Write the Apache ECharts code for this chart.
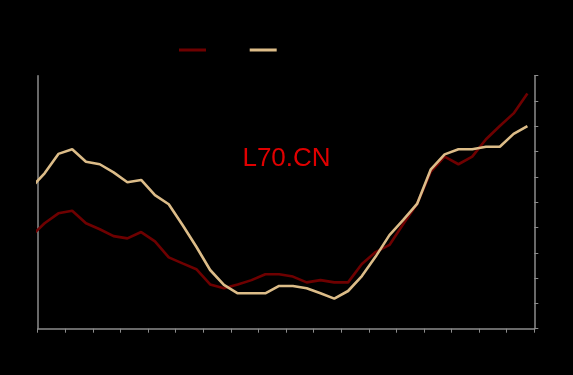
<!DOCTYPE html>
<html>
<head>
<meta charset="utf-8">
<script src="https://cdn.jsdelivr.net/npm/echarts@6/dist/echarts.min.js"></script>
<style>
html,body{margin:0;padding:0;background:#000;}
#chart{width:573px;height:375px;}
</style>
</head>
<body>
<div id="chart"></div>
<script>
// period labels (index 0 is the partial period before the axis start)
var periods = ['P00','P01','P02','P03','P04','P05','P06','P07','P08','P09','P10','P11','P12','P13','P14','P15','P16','P17','P18','P19','P20','P21','P22','P23','P24','P25','P26','P27','P28','P29','P30','P31','P32','P33','P34','P35','P36'];
var seriesNames = ['2024', '2025'];
var redValues = [36.4, 41.7, 45.6, 46.6, 41.7, 39.3, 36.6, 35.7, 38.2, 34.5, 28.2, 25.8, 23.5, 17.5, 16.0, 17.5, 19.2, 21.5, 21.5, 20.6, 18.3, 19.2, 18.3, 18.3, 25.6, 30.3, 33.1, 41.4, 49.3, 62.1, 68.0, 65.0, 68.0, 74.9, 80.1, 85.1, 93.0];
var tanValues = [55.6, 61.4, 69.1, 70.9, 66.0, 65.0, 61.8, 57.9, 58.8, 52.8, 49.2, 41.0, 32.4, 23.2, 17.3, 14.0, 14.0, 14.0, 16.9, 16.9, 16.0, 14.0, 11.9, 14.9, 20.8, 28.5, 37.0, 43.0, 49.3, 63.0, 68.9, 70.9, 70.9, 71.9, 71.9, 77.0, 80.1];
var yTicks = [0, 10, 20, 30, 40, 50, 60, 70, 80, 90, 100];

function pairs(vals) {
  return vals.map(function (v, i) { return [i - 0.5, v]; });
}

var chart = echarts.init(document.getElementById('chart'));
var axisCol = '#8c8c8c';
chart.setOption({
  backgroundColor: '#000',
  animation: false,
  legend: {
    left: 174, top: 39,
    padding: 5,
    icon: 'rect',
    itemWidth: 27, itemHeight: 3, itemGap: 12,
    textStyle: { color: '#000', fontSize: 12 },
    data: seriesNames
  },
  grid: { left: 37.7, right: 38.7, top: 75.7, bottom: 46.3 },
  xAxis: {
    type: 'value', min: 0, max: 36, interval: 2,
    axisLine: { show: true, onZero: false, lineStyle: { color: axisCol, width: 1.5 } },
    axisTick: { show: true, length: 4, lineStyle: { color: axisCol } },
    axisLabel: { show: false },
    splitLine: { show: false }
  },
  yAxis: [{
    type: 'value', position: 'right',
    min: yTicks[0], max: yTicks[yTicks.length - 1], interval: 10,
    axisLine: { show: true, onZero: false, lineStyle: { color: axisCol, width: 1.5 } },
    axisTick: { show: true, length: 4, lineStyle: { color: axisCol } },
    axisLabel: { show: false },
    splitLine: { show: false }
  }, {
    type: 'value', position: 'left',
    min: yTicks[0], max: yTicks[yTicks.length - 1], interval: 10,
    axisLine: { show: true, onZero: false, lineStyle: { color: axisCol, width: 1.5 } },
    axisTick: { show: false },
    axisLabel: { show: false },
    splitLine: { show: false }
  }],
  graphic: [{
    type: 'text', left: 'center', top: 146,
    style: { text: 'L70.CN', fill: '#e00000', font: '26px "Liberation Sans", Arial, sans-serif' }
  }],
  series: [{
    name: seriesNames[0], type: 'line', symbol: 'none', clip: true,
    data: pairs(redValues),
    lineStyle: { color: '#6e0000', width: 2.6 },
    itemStyle: { color: '#6e0000' }
  }, {
    name: seriesNames[1], type: 'line', symbol: 'none', clip: true,
    data: pairs(tanValues),
    lineStyle: { color: '#dcbc88', width: 2.6 },
    itemStyle: { color: '#dcbc88' }
  }]
});
</script>
</body>
</html>
